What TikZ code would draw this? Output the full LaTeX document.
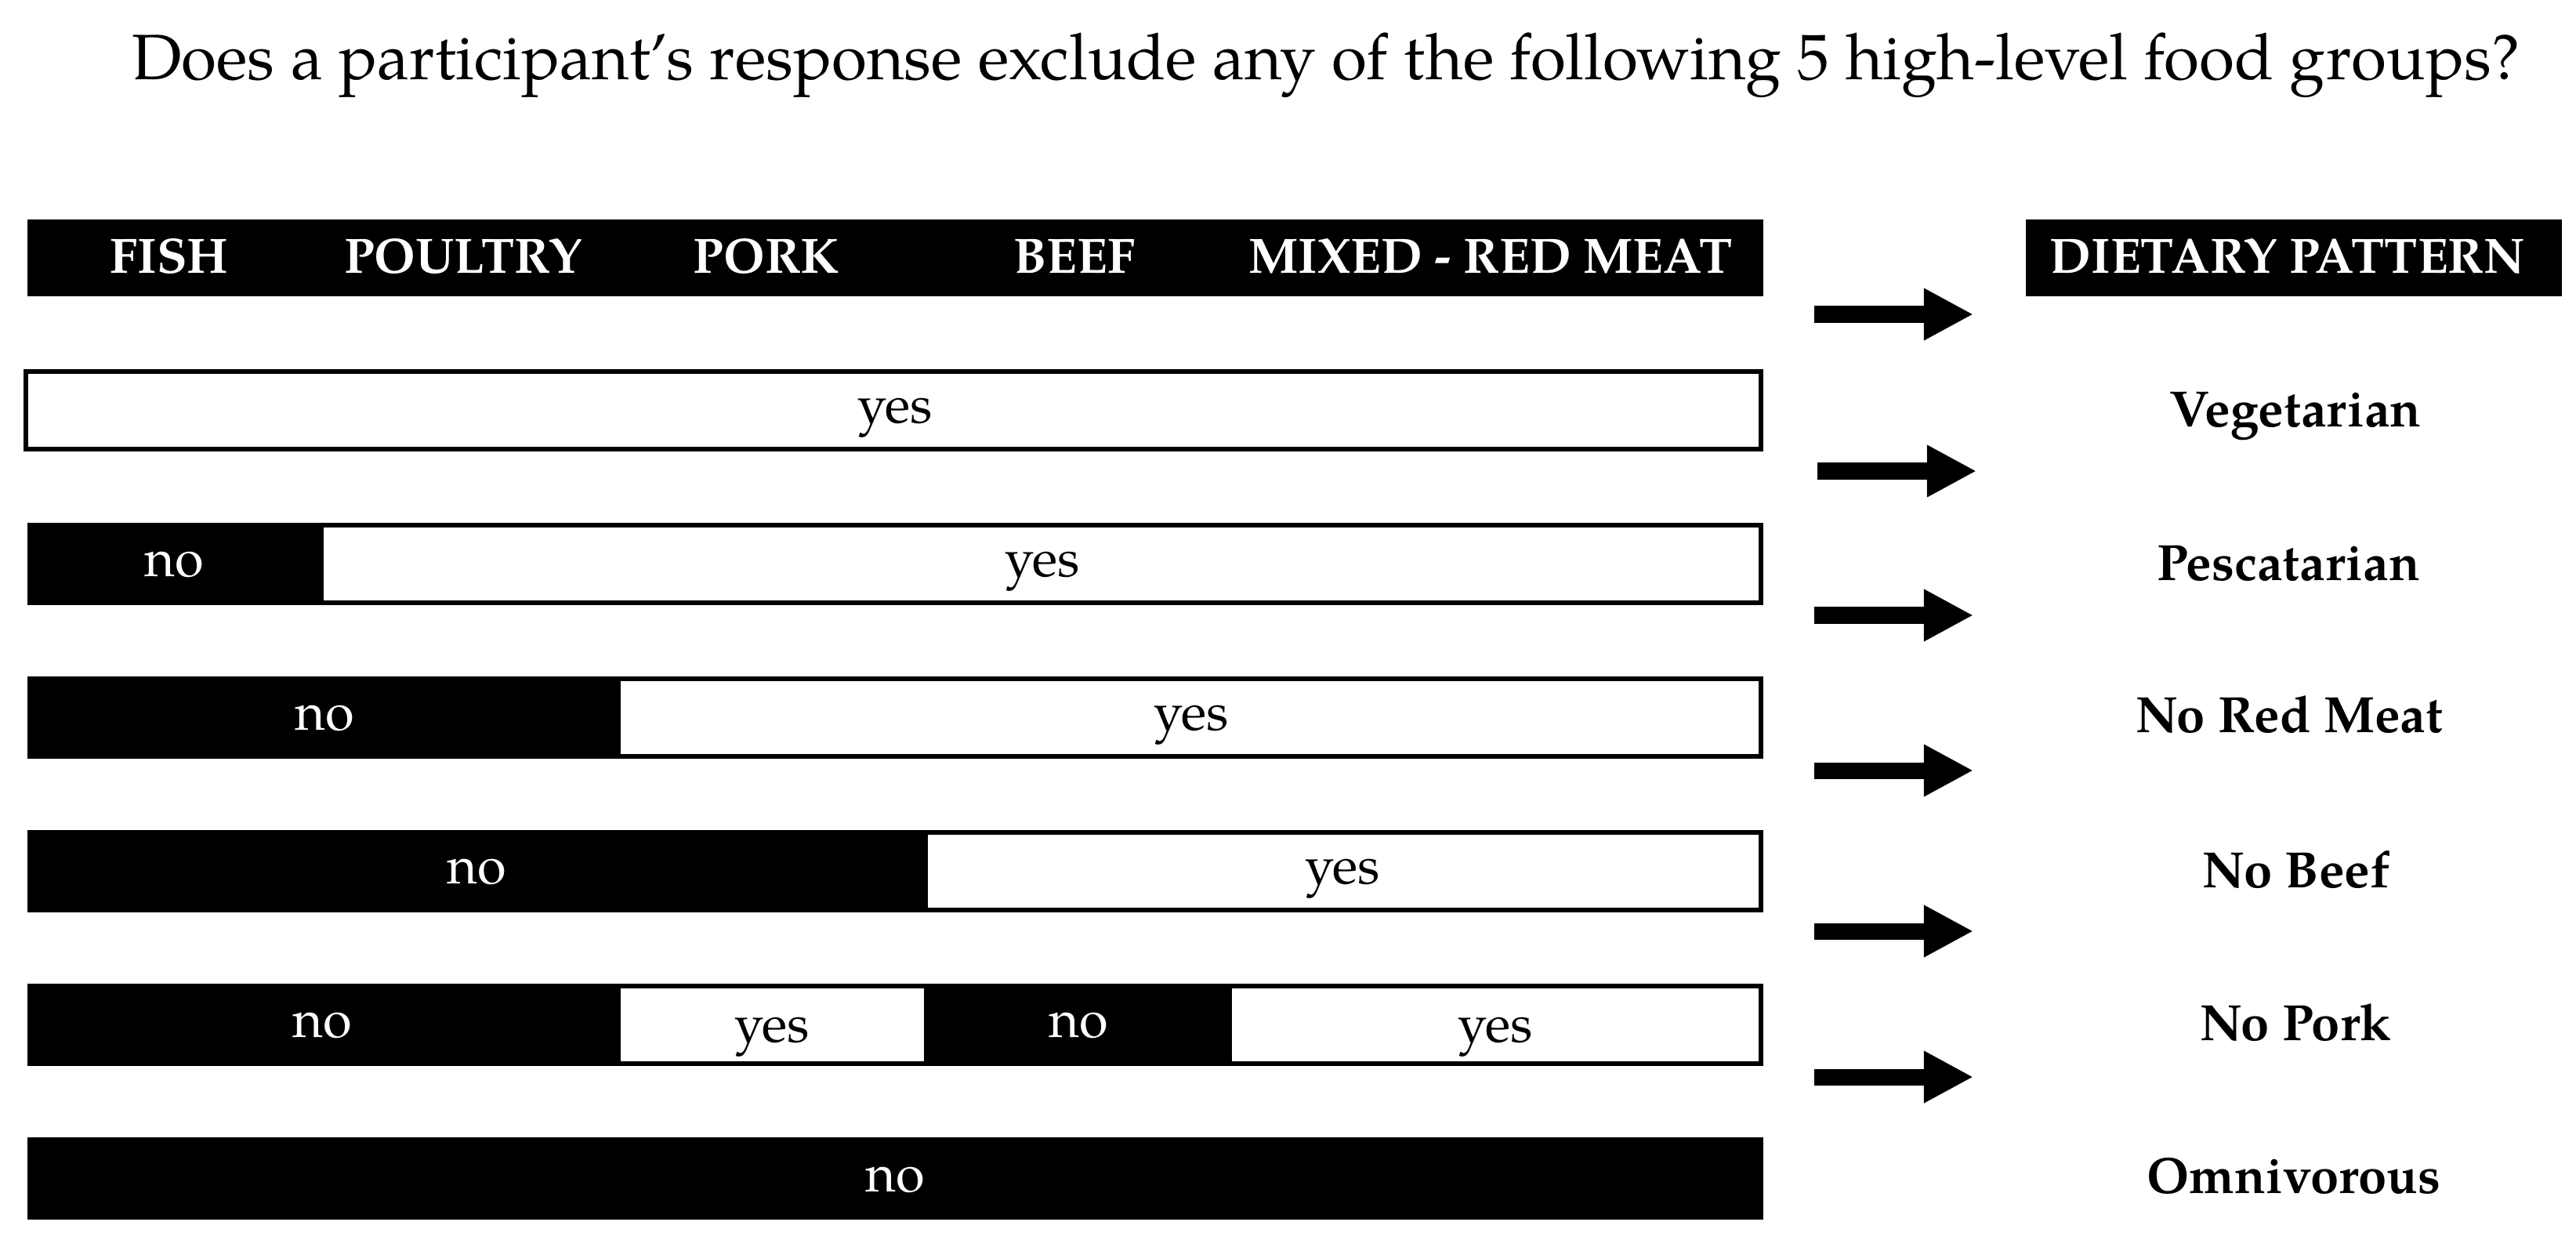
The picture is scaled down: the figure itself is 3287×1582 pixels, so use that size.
\documentclass[tikz,border=0pt]{standalone}
\usepackage{fontspec}
\setmainfont{texgyrepagella}[Extension=.otf, UprightFont=*-regular, BoldFont=*-bold, ItalicFont=*-italic, BoldItalicFont=*-bolditalic]
\usetikzlibrary{arrows.meta}
\tikzset{
  hdr/.style={text=white, font=\bfseries\fontsize{18}{22}\selectfont, anchor=base, inner sep=0pt},
  lab/.style={font=\bfseries\fontsize{18.5}{22}\selectfont, anchor=base, inner sep=0pt},
  yn/.style={font=\fontsize{19}{23}\selectfont, anchor=base, inner sep=0pt},
  nolab/.style={yn, text=white},
  ttl/.style={font=\fontsize{23.3}{28}\selectfont, anchor=base, inner sep=0pt},
  bigarrow/.style={line width=2.1mm, -{Triangle[length=6.3mm,width=6.2mm]}},
  barfill/.style={fill=black},
  yesfill/.style={fill=white}
}
\begin{document}
\begin{tikzpicture}[x=0.01cm, y=-0.01cm]
\useasboundingbox[fill=white] (0,0) rectangle (3287,1582);
% title
\node[ttl] (title) at (1692,102) {Does a participant’s response exclude any of the following 5 high-level food groups?};
% header bars
\fill[barfill] (35,280) rectangle (2250,378);
\fill[barfill] (2585,280) rectangle (3269,378);
\node[hdr] (hfish) at (216,348) {FISH};
\node[hdr] (hpoul) at (591,348) {POULTRY};
\node[hdr] (hpork) at (978,348) {PORK};
\node[hdr] (hbeef) at (1371,348) {BEEF};
\node[hdr] (hmix) at (1902,348) {MIXED - RED MEAT};
\node[hdr] (hdiet) at (2919,348) {DIETARY PATTERN};
% row 1
\fill[barfill] (30,471) rectangle (2250,575.5);
\fill[yesfill] (36,477) rectangle (2244,569.5);
\node[yn] (r1y) at (1142,539) {yes};
% row 2
\fill[barfill] (35,667) rectangle (2250,771.5);
\fill[yesfill] (413,673) rectangle (2244,765.5);
\node[nolab] (r2n) at (222,735) {no};
\node[yn] (r2y) at (1330,735) {yes};
% row 3
\fill[barfill] (35,863) rectangle (2250,967.5);
\fill[yesfill] (792,869) rectangle (2244,961.5);
\node[nolab] (r3n) at (414,931) {no};
\node[yn] (r3y) at (1520,931) {yes};
% row 4
\fill[barfill] (35,1059) rectangle (2250,1163.5);
\fill[yesfill] (1184,1065) rectangle (2244,1157.5);
\node[nolab] (r4n) at (608,1127) {no};
\node[yn] (r4y) at (1713,1127) {yes};
% row 5
\fill[barfill] (35,1255) rectangle (2250,1360);
\fill[yesfill] (792,1261) rectangle (1179,1354);
\fill[yesfill] (1572,1261) rectangle (2244,1354);
\node[nolab] (r5n1) at (411,1323) {no};
\node[yn] (r5y1) at (985,1329) {yes};
\node[nolab] (r5n2) at (1376,1323) {no};
\node[yn] (r5y2) at (1908,1329) {yes};
% row 6
\fill[barfill] (35,1451) rectangle (2250,1556);
\node[nolab] (r6n) at (1142,1520) {no};
% dietary pattern labels
\node[lab] (veg) at (2929,544) {Vegetarian};
\node[lab] (pesc) at (2920,740) {Pescatarian};
\node[lab] (nrm) at (2921,934) {No Red Meat};
\node[lab] (nbeef) at (2930,1132) {No Beef};
\node[lab] (npork) at (2929,1327) {No Pork};
\node[lab] (omni) at (2927,1522) {Omnivorous};
% arrows
\coordinate (a1s) at (2315,401); \coordinate (a1e) at (2518,401);
\coordinate (a2s) at (2319,601); \coordinate (a2e) at (2522,601);
\coordinate (a3s) at (2315,785); \coordinate (a3e) at (2518,785);
\coordinate (a4s) at (2315,983); \coordinate (a4e) at (2518,983);
\coordinate (a5s) at (2315,1188); \coordinate (a5e) at (2518,1188);
\coordinate (a6s) at (2315,1374); \coordinate (a6e) at (2518,1374);
\foreach \i in {1,...,6} { \draw[bigarrow] (a\i s) -- (a\i e); }
\end{tikzpicture}
\end{document}
